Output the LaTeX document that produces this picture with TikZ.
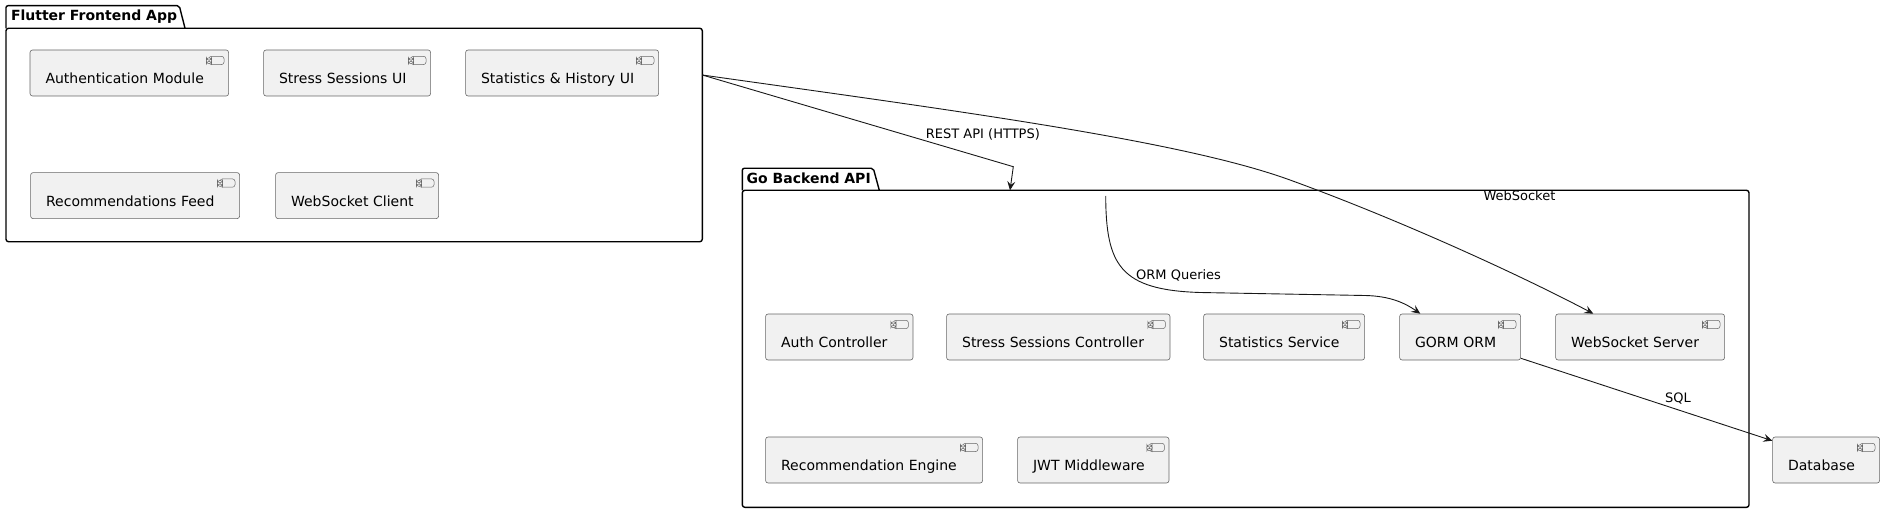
\documentclass[tikz,border=0pt]{standalone}
\usepackage{fontspec}
\setmainfont{DejaVu Sans}
\usetikzlibrary{arrows.meta}
\definecolor{compfill}{HTML}{F1F1F1}
\definecolor{linec}{HTML}{181818}
\definecolor{compline}{HTML}{666666}
\begin{document}
\begin{tikzpicture}[x=1pt,y=-1pt,
  iconline/.style={draw=compline, line width=0.5pt, fill=compfill},
  comp/.style={draw=compline, line width=0.6pt, fill=compfill, rounded corners=2.5pt,
    inner xsep=15.5pt, inner ysep=0pt, minimum height=46pt,
    text height=21pt, text depth=0pt, align=left, anchor=north west,
    font=\fontsize{14}{16}\selectfont,
    path picture={
      \draw[iconline] ([shift={(-19.6,6.3)}]path picture bounding box.north east) rectangle ++(15,8.3);
      \draw[iconline] ([shift={(-22.2,7.8)}]path picture bounding box.north east) rectangle ++(5.2,2.3);
      \draw[iconline] ([shift={(-22.2,11.4)}]path picture bounding box.north east) rectangle ++(5.2,2.3);
    }},
  pkg/.style={draw=black, line width=1.4pt, line join=round},
  pkgtitle/.style={font=\bfseries\fontsize{14}{16}\selectfont, anchor=base west, inner sep=0pt},
  lbl/.style={font=\fontsize{13}{15}\selectfont, anchor=base west, inner sep=0pt},
  edge/.style={draw=linec, line width=0.9pt, -{Stealth[length=9pt,width=8pt,inset=3.5pt]}},
]
\useasboundingbox (0,0) rectangle (1884,513);

% Flutter package
\draw[pkg, rounded corners=2pt] (6,28.3) -- (6,5.7) -- (179.3,5.7) -- (185,28.3);
\draw[pkg, rounded corners=2.5pt] (6,28.3) -- (702.3,28.3) -- (702.3,241.7) -- (6,241.7) -- cycle;
\node[pkgtitle] (fltitle) at (10.8,20.8) {Flutter Frontend App};

% Go package
\draw[pkg, rounded corners=2pt] (742.3,190.3) -- (742.3,168.3) -- (873.3,168.3) -- (879.3,190.3);
\draw[pkg, rounded corners=2.5pt] (742.3,190.3) -- (1749,190.3) -- (1749,507.3) -- (742.3,507.3) -- cycle;
\node[pkgtitle] (gotitle) at (746.5,183.3) {Go Backend API};

% Flutter components
\node[comp, text width=167.6pt] (auth) at (29.7,49.7) {Authentication Module};
\node[comp, text width=136pt] (ssui) at (263.3,49.7) {Stress Sessions UI};
\node[comp, text width=162pt] (stui) at (465.3,49.7) {Statistics \& History UI};
\node[comp, text width=178pt] (recf) at (30.3,172.3) {Recommendations Feed};
\node[comp, text width=132pt] (wsc) at (275.3,172.3) {WebSocket Client};

% Go components
\node[comp, text width=116.4pt] (authc) at (765.3,313.7) {Auth Controller};
\node[comp, text width=192.4pt] (ssc) at (946.3,313.7) {Stress Sessions Controller};
\node[comp, text width=130pt] (stsv) at (1203.3,313.7) {Statistics Service};
\node[comp, text width=90pt] (gorm) at (1399.3,313.7) {GORM ORM};
\node[comp, text width=138pt] (wss) at (1555.3,313.7) {WebSocket Server};
\node[comp, text width=186pt] (rece) at (765.3,436.7) {Recommendation Engine};
\node[comp, text width=120.4pt] (jwt) at (1017.3,436.7) {JWT Middleware};

% Database
\node[comp, text width=76pt] (db) at (1772.3,436.7) {Database};

% connector points
\coordinate (flout) at (702.3,75);
\coordinate (restbend) at (1013.3,166.7);
\coordinate (goin) at (1010,190.3);
\coordinate (goout) at (1105.7,196);
\coordinate (wsmid) at (1290,180);

% edges
\draw[edge] (flout) -- (restbend) -- (goin);
\draw[edge] (flout) .. controls (950,110) and (1180,140) .. (wsmid)
  .. controls (1400,220) and (1520,275) .. ([xshift=38pt]wss.north west);
\draw[edge] (goout) .. controls (1106,265) and (1120,290) .. (1200,292.5) -- (1365,295.5)
  .. controls (1390,296) and (1405,303) .. ([xshift=21pt]gorm.north west);
\draw[edge] ([yshift=2pt]gorm.south east) -- ([yshift=-4pt]db.north west);

% labels
\node[lbl] (lrest) at (925.7,138.3) {REST API (HTTPS)};
\node[lbl] (lws) at (1483.3,200.3) {WebSocket};
\node[lbl] (lorm) at (1136,279.7) {ORM Queries};
\node[lbl] (lsql) at (1665,402.5) {SQL};
\end{tikzpicture}
\end{document}
